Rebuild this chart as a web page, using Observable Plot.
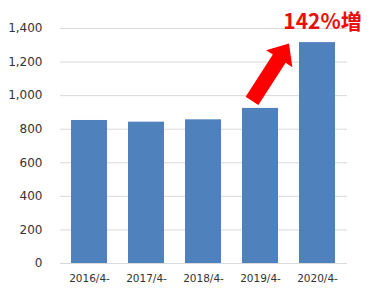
<!DOCTYPE html>
<html>
<head>
<meta charset="utf-8">
<script src="https://cdn.jsdelivr.net/npm/d3@7"></script>
<script src="https://cdn.jsdelivr.net/npm/@observablehq/plot@0.6"></script>
<style>
  html, body { margin: 0; padding: 0; background: #fff; }
  #chart svg { display: block; }
</style>
</head>
<body>
<div id="chart"></div>
<script>
const categories = ["2016/4-", "2017/4-", "2018/4-", "2019/4-", "2020/4-"];
const values = [852, 842, 856, 924, 1316];
const yTicks = [0, 200, 400, 600, 800, 1000, 1200, 1400];
const annotation = "142%増";

const data = categories.map((c, i) => ({category: c, value: values[i]}));

// Filled arrow from top of 2019 bar towards top of 2020 bar, placed through the scales
function arrowMark(index, scales) {
  const x = scales.x, y = scales.y;
  const bw = typeof x.bandwidth === "function" ? x.bandwidth() : 0;
  const tail = [x(categories[3]) + bw / 2 - 8, y(values[3]) - 7];
  const tip = [x(categories[4]) - 10, y(values[4]) + 1.5];
  const dx = tip[0] - tail[0], dy = tip[1] - tail[1];
  const len = Math.hypot(dx, dy);
  const ux = dx / len, uy = dy / len;
  const px = -uy, py = ux;
  const sw = 7.6, hw = 15.6, hl = 18;
  const bx = tip[0] - ux * hl, by = tip[1] - uy * hl;
  const pts = [
    [tail[0] + px * sw, tail[1] + py * sw],
    [bx + px * sw, by + py * sw],
    [bx + px * hw, by + py * hw],
    tip,
    [bx - px * hw, by - py * hw],
    [bx - px * sw, by - py * sw],
    [tail[0] - px * sw, tail[1] - py * sw]
  ];
  const path = document.createElementNS("http://www.w3.org/2000/svg", "path");
  path.setAttribute("d", "M" + pts.map(p => p.join(",")).join("L") + "Z");
  path.setAttribute("fill", "#ff0000");
  return path;
}

const chart = Plot.plot({
  width: 384,
  height: 289,
  marginLeft: 60,
  marginRight: 37,
  marginTop: 28,
  marginBottom: 26,
  style: {fontFamily: "'DejaVu Sans', Verdana, sans-serif", background: "#fff", color: "#333"},
  x: {domain: categories, paddingInner: 0.365, paddingOuter: 0.18, label: null},
  y: {domain: [0, 1400], ticks: yTicks, label: null},
  marks: [
    Plot.gridY(yTicks, {stroke: "#d9d9d9", strokeOpacity: 1, strokeWidth: 1}),
    Plot.barY(data, {x: "category", y: "value", fill: "#4f81bd"}),
    Plot.axisY(yTicks, {tickSize: 0, tickPadding: 18, fontSize: 12, fill: "#333", tickFormat: d3.format(","), label: null}),
    Plot.axisX({tickSize: 0, tickPadding: 11, fontSize: 10.5, fill: "#333", label: null}),
    arrowMark,
    Plot.text([annotation], {
      x: () => categories[4], y: () => values[4], text: d => d,
      dx: 5, dy: -20, fontSize: 21, fontWeight: "bold",
      fill: "#e8100c", fontFamily: "'Noto Sans CJK JP', sans-serif"
    })
  ]
});
document.getElementById("chart").appendChild(chart);
</script>
</body>
</html>
